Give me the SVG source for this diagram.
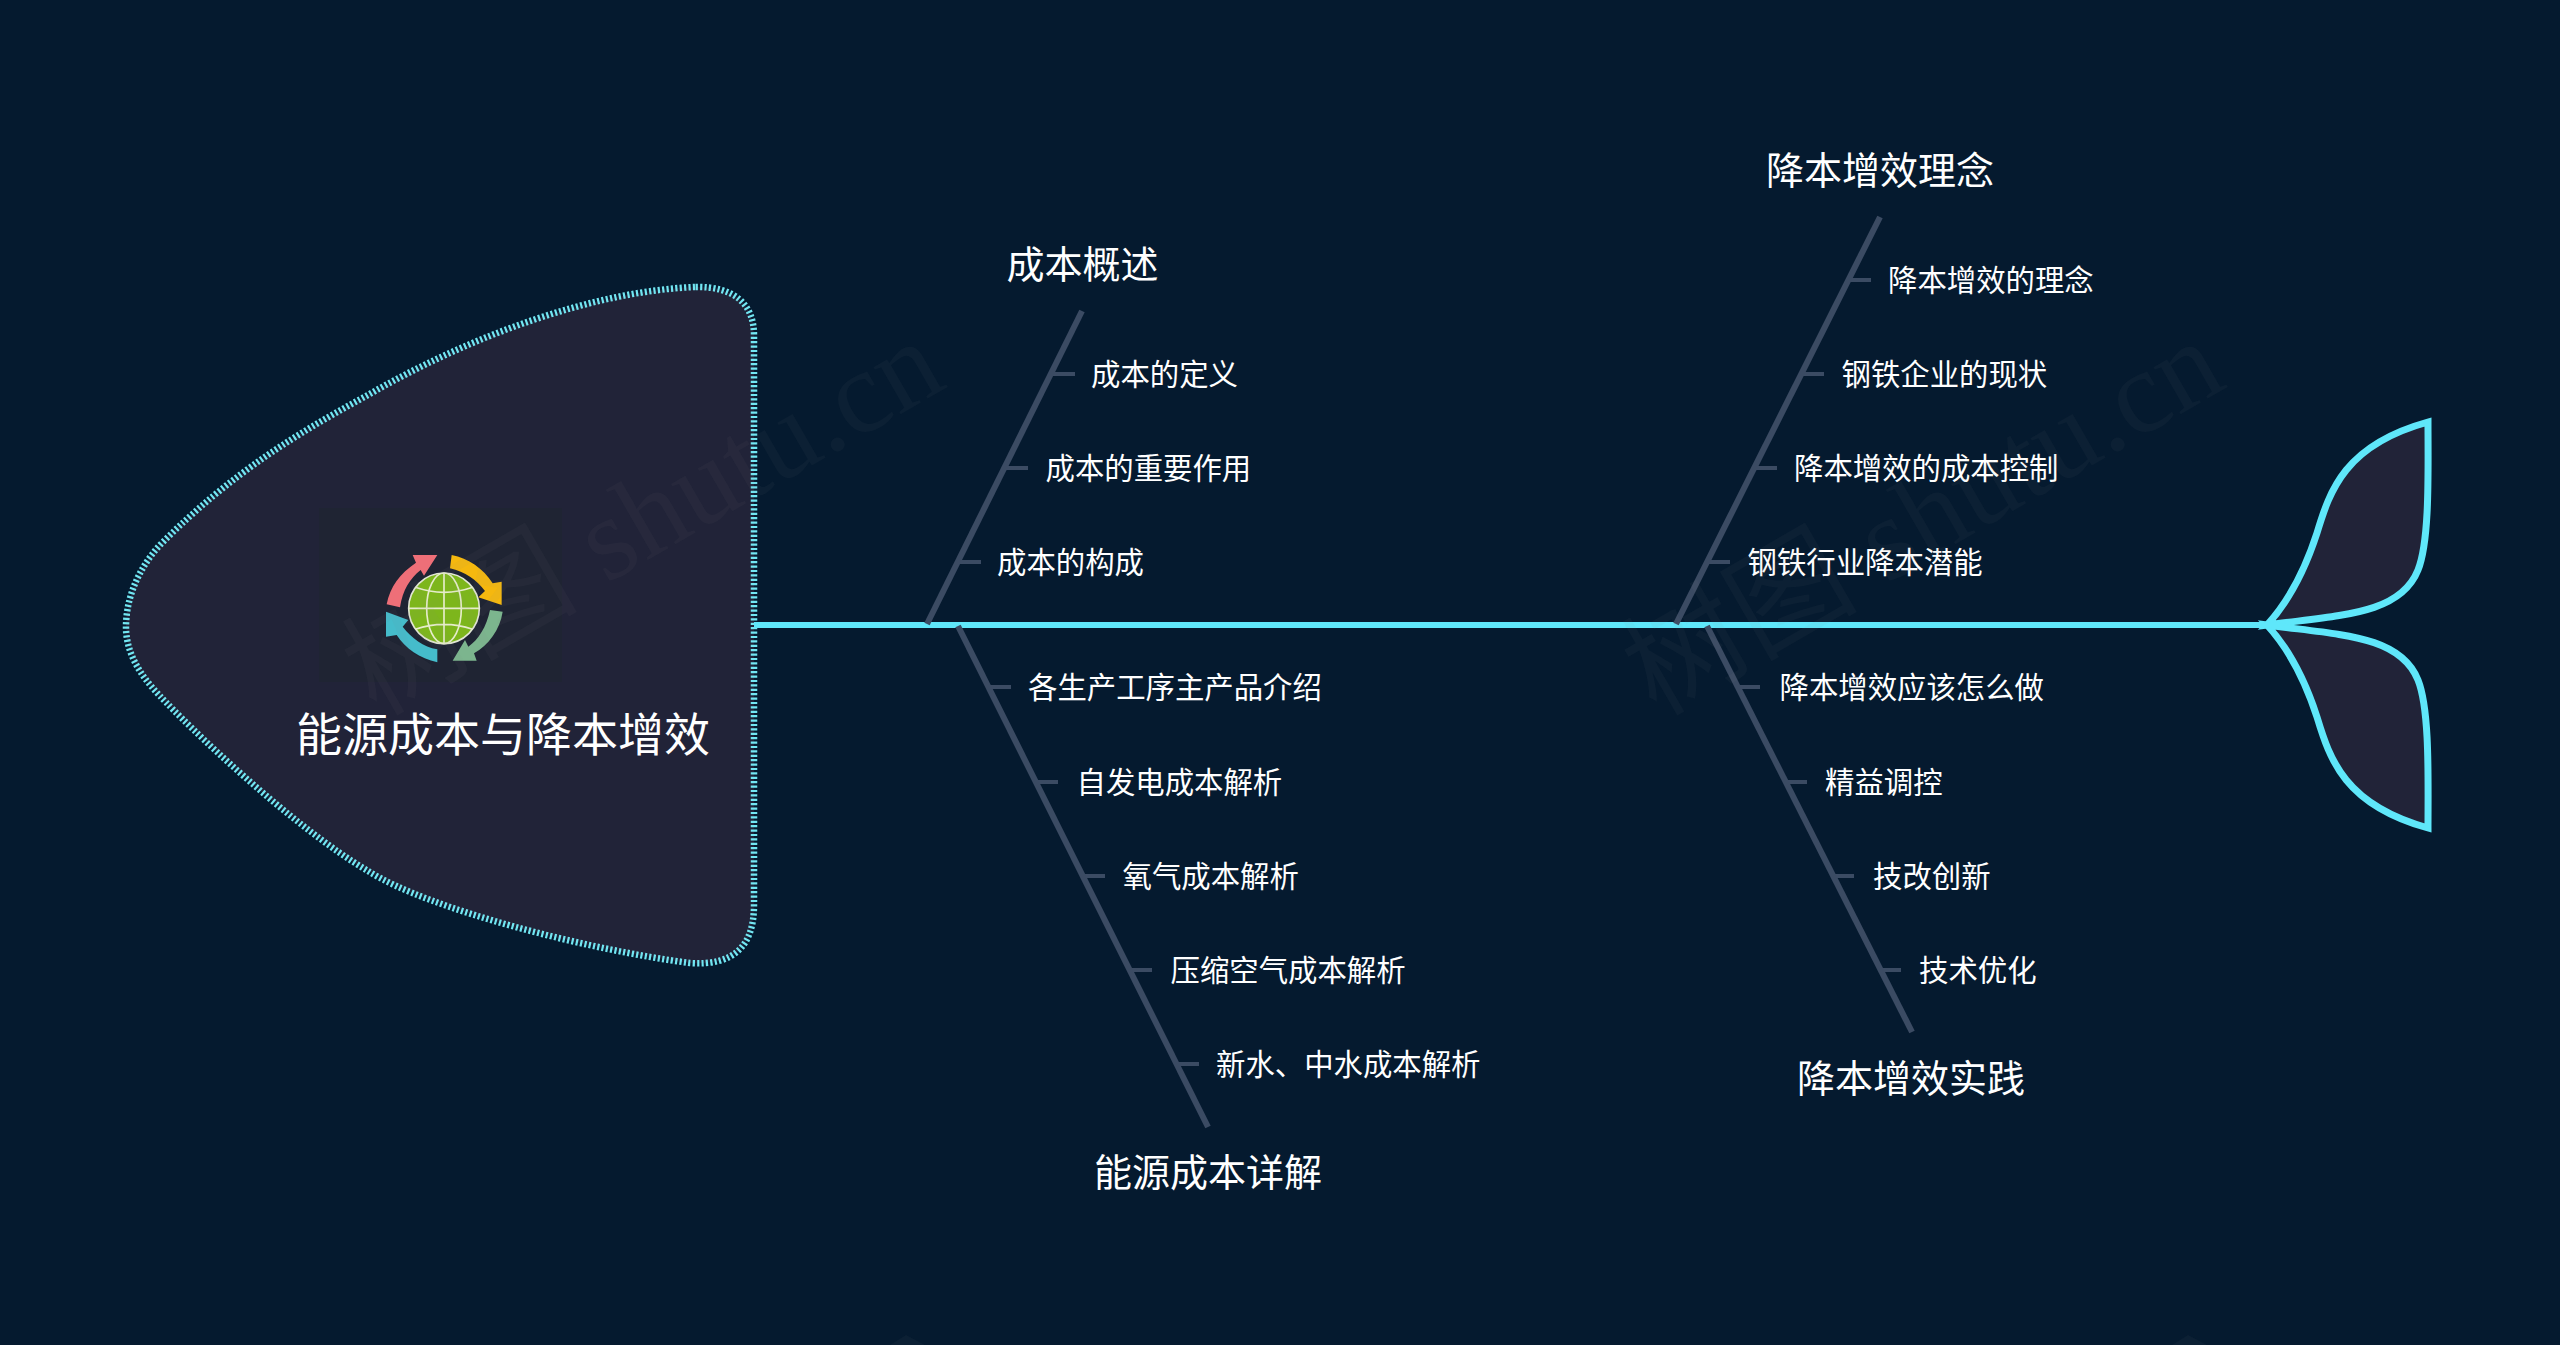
<svg xmlns="http://www.w3.org/2000/svg" width="2560" height="1345" viewBox="0 0 2560 1345">
<style>
text{font-family:"Noto Sans CJK SC","Liberation Sans",sans-serif;fill:#fff}
.t{font-size:38px;text-anchor:middle}
.s{font-size:29.4px}
.h{font-size:46px}
.bone{stroke:#3b4b63;stroke-width:6;fill:none}
.tick{stroke:#3b4b63;stroke-width:4;fill:none}
.spine{stroke:#5fe7fa;stroke-width:6;fill:none}
.lobe{stroke:#5fe7fa;stroke-width:7;fill:#212338;stroke-linejoin:miter}
.wm{font-family:"Liberation Serif","Noto Sans CJK SC",serif;font-size:118px;fill:#8a8a8a;fill-opacity:.06}
</style>
<rect width="2560" height="1345" fill="#051a2f"/>
<g id="head">
<path d="M695 287 C595 291 472 335 368 395 C300 432 232 472 160 545 C137 570 126 600 126 627 C126 650 137 672 160 696 C187 725 290 825 368 871 C430 910 590 950 690 963 C735 966 754 945 754 905 L754 335 C754 305 735 286 695 287 Z" fill="#212338" stroke="#72e6f2" stroke-width="6.5" stroke-dasharray="2.2 2.2"/>
<rect x="319" y="508" width="243" height="174" fill="#1f2433"/>
<g id="icon" transform="translate(300 510) scale(.33333)">
<path d="M260 283 C270 230 300 190 348 158 L338 135 L412 135 L372 197 L362 180 C330 205 308 240 300 292 Z" fill="#ee6f78"/>
<path d="M455 135 C505 145 550 175 578 220 L605 215 L605 285 L535 262 L555 243 C530 210 495 185 450 175 Z" fill="#f5b80f"/>
<path d="M608 305 C600 360 565 405 522 430 L530 452 L458 452 L495 390 L505 410 C535 390 560 350 570 300 Z" fill="#7cb58e"/>
<path d="M412 457 C360 445 315 415 290 375 L258 380 L258 305 L325 330 L308 350 C335 385 370 410 412 418 Z" fill="#45bccb"/>
<circle cx="432" cy="295" r="106" fill="#7db61c" stroke="#e2e6d4" stroke-width="5"/>
<g fill="none" stroke="#e6eccb" stroke-width="5">
<ellipse cx="432" cy="295" rx="52" ry="106"/>
<path d="M432 189V401M326 295H538M346 232Q432 262 518 232M346 358Q432 328 518 358"/>
</g>
</g>
<text class="h" x="296" y="751">能源成本与降本增效</text>
</g>
<g id="connectors">
<path class="spine" d="M754 625H2270"/>
<path class="bone" d="M1082 311L927 624"/>
<path class="tick" d="M1053 374H1075M1006 468H1028M959 562H981"/>
<path class="bone" d="M958 626L1208 1127"/>
<path class="tick" d="M989 687H1011M1036 782H1058M1083 876H1105M1130 970H1152M1177 1064H1199"/>
<path class="bone" d="M1880 217L1676 624"/>
<path class="tick" d="M1849 280H1871M1802 374H1824M1755 468H1777M1708 562H1730"/>
<path class="bone" d="M1707 626L1912 1032"/>
<path class="tick" d="M1738 687H1760M1785 782H1807M1832 876H1854M1879 970H1901"/>
</g>
<g id="tail">
<path class="lobe" d="M2267 625 C2290 600 2305 570 2317 533 C2330 490 2345 445 2428 422 C2428 470 2430 540 2418 570 C2400 615 2340 615 2267 625 Z"/>
<path class="lobe" d="M2267 625 C2290 650 2305 680 2317 717 C2330 760 2345 805 2428 828 C2428 780 2430 710 2418 680 C2400 635 2340 635 2267 625 Z"/>
</g>
<g id="n1"><text class="t" x="1082.5" y="277.5">成本概述</text></g>
<g id="n1-1"><text class="s" x="1091" y="384.5">成本的定义</text></g>
<g id="n1-2"><text class="s" x="1045.5" y="478.5">成本的重要作用</text></g>
<g id="n1-3"><text class="s" x="997" y="572.5">成本的构成</text></g>
<g id="n2"><text class="t" x="1208" y="1185.5">能源成本详解</text></g>
<g id="n2-1"><text class="s" x="1028" y="697.5">各生产工序主产品介绍</text></g>
<g id="n2-2"><text class="s" x="1076.5" y="792.500">自发电成本解析</text></g>
<g id="n2-3"><text class="s" x="1122.5" y="886.5">氧气成本解析</text></g>
<g id="n2-4"><text class="s" x="1170.5" y="980.5">压缩空气成本解析</text></g>
<g id="n2-5"><text class="s" x="1216" y="1074.5">新水、中水成本解析</text></g>
<g id="n3"><text class="t" x="1880" y="183.5">降本增效理念</text></g>
<g id="n3-1"><text class="s" x="1888" y="290.5">降本增效的理念</text></g>
<g id="n3-2"><text class="s" x="1841.5" y="384.5">钢铁企业的现状</text></g>
<g id="n3-3"><text class="s" x="1794" y="478.5">降本增效的成本控制</text></g>
<g id="n3-4"><text class="s" x="1747.5" y="572.5">钢铁行业降本潜能</text></g>
<g id="n4"><text class="t" x="1911" y="1091.5">降本增效实践</text></g>
<g id="n4-1"><text class="s" x="1779.5" y="697.5">降本增效应该怎么做</text></g>
<g id="n4-2"><text class="s" x="1825" y="792.5">精益调控</text></g>
<g id="n4-3"><text class="s" x="1873" y="886.5">技改创新</text></g>
<g id="n4-4"><text class="s" x="1919" y="980.5">技术优化</text></g>
<g id="watermarks">
<text class="wm" transform="translate(376 717) rotate(-30)">树图 shutu.cn</text>
<text class="wm" transform="translate(1656 717) rotate(-30)">树图 shutu.cn</text>
<path d="M906 1335L890 1345H925ZM2188 1335L2172 1345H2207Z" fill="#8a8a8a" fill-opacity=".06"/>
</g>
</svg>
